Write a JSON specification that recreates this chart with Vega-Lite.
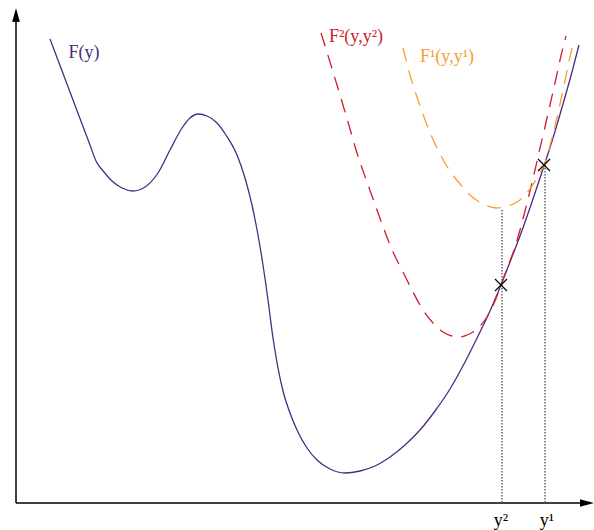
{
  "$schema": "https://vega.github.io/schema/vega-lite/v6.json",
  "width": 594,
  "height": 530,
  "autosize": {"type": "fit", "contains": "padding"},
  "padding": 0,
  "background": "white",
  "config": {"view": {"stroke": null}},
  "datasets": {
    "F": [
      {"x": 50, "y": 39}, {"x": 73, "y": 100}, {"x": 90, "y": 145}, {"x": 96, "y": 161}, {"x": 104, "y": 172}, {"x": 112, "y": 181}, {"x": 122, "y": 188}, {"x": 133, "y": 191}, {"x": 145, "y": 187}, {"x": 158, "y": 173}, {"x": 170, "y": 150}, {"x": 182, "y": 128}, {"x": 190, "y": 118}, {"x": 198, "y": 114}, {"x": 207, "y": 116}, {"x": 216, "y": 122}, {"x": 226, "y": 135}, {"x": 237, "y": 155}, {"x": 245, "y": 178}, {"x": 252, "y": 205}, {"x": 258, "y": 235}, {"x": 263, "y": 265}, {"x": 268, "y": 300}, {"x": 273, "y": 338}, {"x": 278, "y": 368}, {"x": 283, "y": 391}, {"x": 290, "y": 413}, {"x": 297, "y": 430}, {"x": 307, "y": 448}, {"x": 317, "y": 460}, {"x": 330, "y": 469}, {"x": 345, "y": 473}, {"x": 360, "y": 471}, {"x": 375, "y": 466}, {"x": 390, "y": 457}, {"x": 405, "y": 445}, {"x": 420, "y": 430}, {"x": 435, "y": 411}, {"x": 450, "y": 389}, {"x": 465, "y": 362}, {"x": 480, "y": 332}, {"x": 490, "y": 311}, {"x": 501, "y": 285}, {"x": 510, "y": 262}, {"x": 520, "y": 236}, {"x": 532, "y": 202}, {"x": 544, "y": 166}, {"x": 553, "y": 138}, {"x": 563, "y": 104}, {"x": 572, "y": 72}, {"x": 579, "y": 45}
    ],
    "F2": [
      {"x": 321, "y": 33}, {"x": 330, "y": 62}, {"x": 340, "y": 95}, {"x": 348, "y": 122}, {"x": 357, "y": 153}, {"x": 367, "y": 182}, {"x": 377, "y": 210}, {"x": 385, "y": 232}, {"x": 393, "y": 252}, {"x": 403, "y": 272}, {"x": 413, "y": 292}, {"x": 423, "y": 310}, {"x": 433, "y": 323}, {"x": 443, "y": 332}, {"x": 452, "y": 336}, {"x": 460, "y": 337}, {"x": 467, "y": 335}, {"x": 473, "y": 332}, {"x": 480, "y": 326}, {"x": 487, "y": 317}, {"x": 495, "y": 301}, {"x": 501, "y": 285}, {"x": 505, "y": 274}, {"x": 510, "y": 261}, {"x": 515, "y": 247}, {"x": 520, "y": 230}, {"x": 525, "y": 211}, {"x": 530, "y": 191}, {"x": 535, "y": 170}, {"x": 540, "y": 148}, {"x": 545, "y": 127}, {"x": 550, "y": 105}, {"x": 555, "y": 83}, {"x": 560, "y": 60}, {"x": 566, "y": 36}
    ],
    "F1": [
      {"x": 403, "y": 48}, {"x": 410, "y": 75}, {"x": 418, "y": 100}, {"x": 427, "y": 125}, {"x": 437, "y": 148}, {"x": 448, "y": 168}, {"x": 460, "y": 184}, {"x": 470, "y": 195}, {"x": 483, "y": 204}, {"x": 496, "y": 208}, {"x": 508, "y": 206}, {"x": 517, "y": 202}, {"x": 525, "y": 195}, {"x": 532, "y": 186}, {"x": 538, "y": 176}, {"x": 544, "y": 165}, {"x": 552, "y": 138}, {"x": 558, "y": 113}, {"x": 563, "y": 90}, {"x": 568, "y": 66}, {"x": 572, "y": 48}
    ],
    "axes": [
      {"x": 16, "y": 503, "x2": 16, "y2": 16},
      {"x": 16, "y": 503, "x2": 586, "y2": 503}
    ],
    "dots": [
      {"x": 502, "y": 210, "x2": 502, "y2": 503},
      {"x": 545, "y": 165, "x2": 545, "y2": 503}
    ],
    "crosses": [
      {"x": 501, "y": 285},
      {"x": 544, "y": 165}
    ],
    "labels": [
      {"x": 84, "y": 53, "t": "F(y)", "c": "F"},
      {"x": 356, "y": 37, "t": "F²(y,y²)", "c": "F2"},
      {"x": 447, "y": 57, "t": "F¹(y,y¹)", "c": "F1"},
      {"x": 501, "y": 521, "t": "y²", "c": "k"},
      {"x": 547, "y": 521, "t": "y¹", "c": "k"}
    ]
  },
  "layer": [
    {
      "data": {"name": "axes"},
      "mark": {"type": "rule", "color": "black", "strokeWidth": 1.5},
      "encoding": {
        "x": {"field": "x", "type": "quantitative", "scale": {"domain": [0, 594], "nice": false, "zero": false}, "axis": null},
        "y": {"field": "y", "type": "quantitative", "scale": {"domain": [0, 530], "nice": false, "zero": false, "reverse": true}, "axis": null},
        "x2": {"field": "x2"},
        "y2": {"field": "y2"}
      }
    },
    {
      "data": {"values": [{"x": 16, "y": 15, "s": "M0,-1L0.55,1L-0.55,1Z"}, {"x": 587, "y": 503, "s": "M1,0L-1,0.55L-1,-0.55Z"}]},
      "mark": {"type": "point", "filled": true, "color": "black", "size": 196, "opacity": 1},
      "encoding": {
        "x": {"field": "x", "type": "quantitative"},
        "y": {"field": "y", "type": "quantitative"},
        "shape": {"field": "s", "type": "nominal", "scale": null}
      }
    },
    {
      "data": {"name": "dots"},
      "mark": {"type": "rule", "color": "#666666", "strokeWidth": 1.5, "strokeDash": [1.5, 1.5]},
      "encoding": {
        "x": {"field": "x", "type": "quantitative"},
        "y": {"field": "y", "type": "quantitative"},
        "x2": {"field": "x2"},
        "y2": {"field": "y2"}
      }
    },
    {
      "data": {"name": "F"},
      "mark": {"type": "line", "color": "#4e2a84", "strokeWidth": 1.3, "interpolate": "monotone"},
      "encoding": {
        "x": {"field": "x", "type": "quantitative"},
        "y": {"field": "y", "type": "quantitative"}
      }
    },
    {
      "data": {"name": "F2"},
      "mark": {"type": "line", "color": "#d01c2c", "strokeWidth": 1.3, "interpolate": "monotone", "strokeDash": [14, 9]},
      "encoding": {
        "x": {"field": "x", "type": "quantitative"},
        "y": {"field": "y", "type": "quantitative"}
      }
    },
    {
      "data": {"name": "F1"},
      "mark": {"type": "line", "color": "#f5a030", "strokeWidth": 1.3, "interpolate": "monotone", "strokeDash": [14, 9]},
      "encoding": {
        "x": {"field": "x", "type": "quantitative"},
        "y": {"field": "y", "type": "quantitative"}
      }
    },
    {
      "data": {"name": "crosses"},
      "mark": {"type": "point", "shape": "M-1,-1L1,1M-1,1L1,-1", "filled": false, "color": "black", "strokeWidth": 1.2, "size": 144, "opacity": 1},
      "encoding": {
        "x": {"field": "x", "type": "quantitative"},
        "y": {"field": "y", "type": "quantitative"}
      }
    },
    {
      "data": {"name": "labels"},
      "mark": {"type": "text", "font": "Liberation Serif", "fontSize": 18, "align": "center", "baseline": "middle"},
      "encoding": {
        "x": {"field": "x", "type": "quantitative"},
        "y": {"field": "y", "type": "quantitative"},
        "text": {"field": "t"},
        "color": {"field": "c", "type": "nominal", "scale": {"domain": ["F", "F2", "F1", "k"], "range": ["#4e2a84", "#d01c2c", "#f5a030", "#000000"]}, "legend": null}
      }
    }
  ]
}
